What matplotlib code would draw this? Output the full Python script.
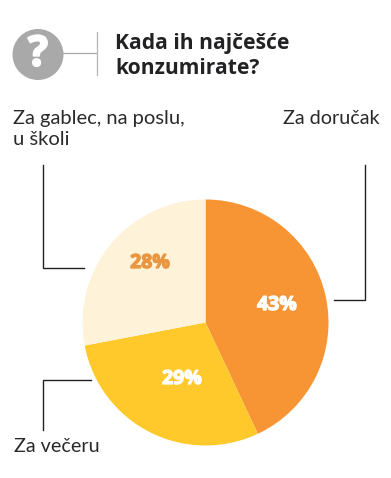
import matplotlib
matplotlib.use("Agg")
import matplotlib.pyplot as plt
import matplotlib.patheffects as pe
from matplotlib.patches import Circle

title_lines = ["Kada ih najčešće", "konzumirate?"]
categories = ["Za doručak", "Za večeru", "Za gablec, na poslu,\nu školi"]
values = [43, 29, 28]
colors = ["#F79535", "#FFC92C", "#FEF2D8"]
pct_colors = ["white", "white", "#E8963F"]

W, H = 391, 478
fig = plt.figure(figsize=(W/100, H/100), dpi=100, facecolor="white")
ax = fig.add_axes([0, 0, 1, 1])


def Y(y):
    return H - y


wedges, _ = ax.pie(values, colors=colors, startangle=90, counterclock=False,
                   center=(205.5, Y(322.5)), radius=123, frame=False,
                   wedgeprops=dict(linewidth=0))
ax.set_xlim(0, W)
ax.set_ylim(0, H)
ax.set_aspect("auto")
ax.axis("off")

pct_pos = [(277, 305), (182, 379), (150, 263)]
for v, c, (x, y) in zip(values, pct_colors, pct_pos):
    ax.text(x, Y(y), f"{v}%", color=c, fontsize=14, fontweight="bold",
            family="Open Sans", ha="center", va="center",
            path_effects=[pe.withStroke(linewidth=0.9, foreground=c)])

# Question icon
ax.add_patch(Circle((38, Y(54.5)), 25.5, color="#A8A9A8", lw=0))
ax.text(38, Y(55), "?", color="white", fontsize=30, fontweight="bold",
        family="Open Sans", ha="center", va="center",
        path_effects=[pe.withStroke(linewidth=1.5, foreground="white")])
ax.plot([63, 97], [Y(53), Y(53)], color="#A8A9A8", lw=0.9)
ax.plot([97, 97], [Y(32), Y(75)], color="#B5B5B5", lw=0.9)

# Title
for line, y in zip(title_lines, [43, 68]):
    ax.text(115, Y(y), line, color="#222224", fontsize=15.1, fontweight="bold",
            family="Open Sans", ha="left", va="center")

# Labels
txt = "#2A2A2C"
ax.text(283, Y(118), categories[0], color=txt, fontsize=14.2, family="Lato", ha="left", va="center")
ax.text(14, Y(447), categories[1], color=txt, fontsize=14.2, family="Lato", ha="left", va="center")
ax.text(13, Y(129), categories[2], color=txt, fontsize=14.5, family="Lato", ha="left", va="center",
        linespacing=1.3)

# Leaders
lc = "#222222"
ax.plot([365, 365, 334], [Y(165), Y(300), Y(300)], color=lc, lw=1, solid_joinstyle="miter")
ax.plot([42.5, 42.5, 84], [Y(165), Y(267.5), Y(267.5)], color=lc, lw=1, solid_joinstyle="miter")
ax.plot([42.5, 42.5, 91], [Y(430), Y(379.5), Y(379.5)], color=lc, lw=1, solid_joinstyle="miter")

fig.savefig("out.png", dpi=100, facecolor="white")
